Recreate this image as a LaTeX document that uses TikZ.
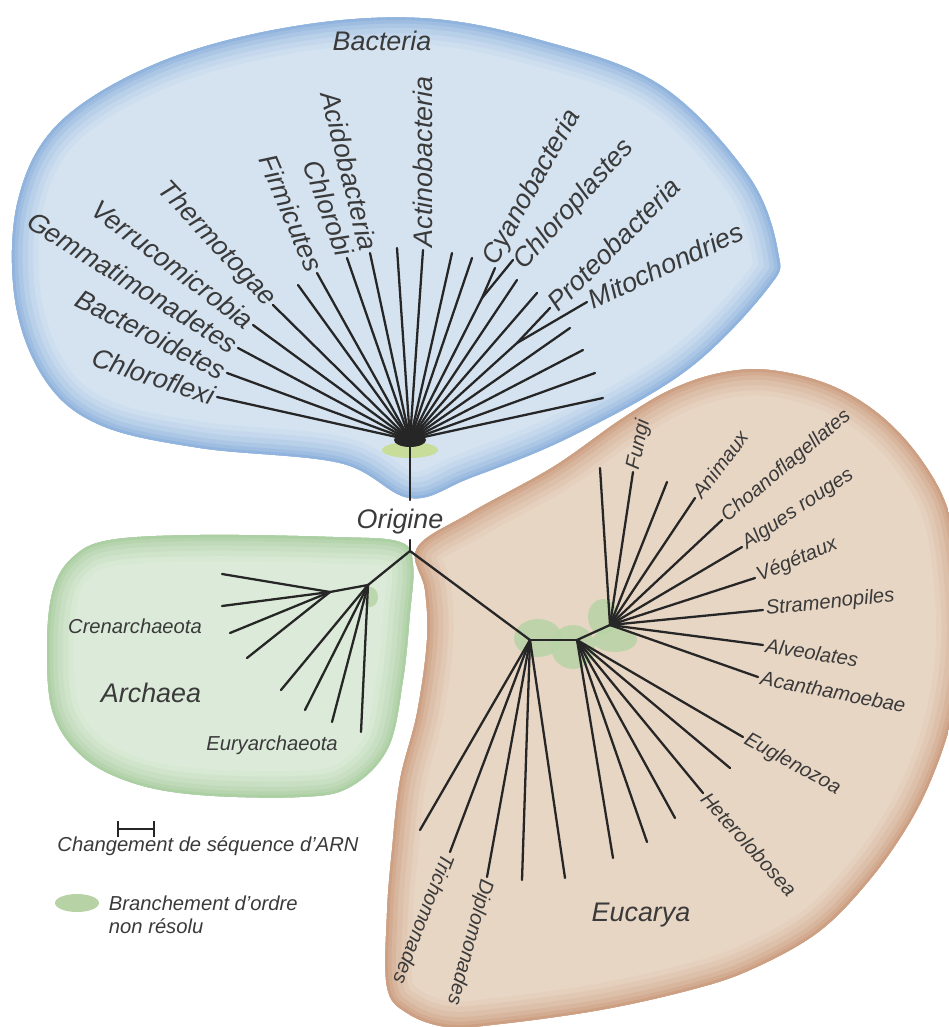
\documentclass[tikz,border=0pt]{standalone}
\usepackage{fontspec}
\setmainfont{Liberation Sans}
\usepackage{xcolor}
\usepackage{tikz}

\newcommand{\grandtxt}{\fontsize{15.3}{17}\selectfont\itshape}
\newcommand{\petittxt}{\fontsize{11.5}{13}\selectfont\itshape}

\begin{document}
\begin{tikzpicture}[x=0.02cm, y=-0.02cm,
  branche/.style={draw=trait, line width=1.3pt, line cap=round},
  grand/.style={font=\grandtxt, text=texte, inner sep=1.5pt},
  petit/.style={font=\petittxt, text=texte, inner sep=1.5pt},
  flou/.style={fill=vertFlou, draw=none, opacity=0.85},
  bactForme/.style={insert path={plot[smooth cycle, tension=0.6] coordinates {
    (420,18) (540,40) (660,85) (748,175) (778,252) (768,288) (687,370) (570,437)
    (470,478) (410,498) (340,463) (200,448) (100,425) (45,380) (15,300) (18,200)
    (60,122) (160,62) (290,27)}}},
  archForme/.style={insert path={plot[smooth cycle, tension=0.6] coordinates {
    (400,542) (413,565) (410,613) (403,680) (388,748) (350,787) (300,797) (200,795)
    (133,783) (83,757) (53,713) (47,647) (53,590) (73,557) (110,540) (200,535)
    (333,537)}}},
  eucForme/.style={insert path={plot[smooth cycle, tension=0.6] coordinates {
    (417,548) (470,513) (553,467) (620,420) (670,390) (720,373) (770,370) (830,385)
    (880,415) (920,458) (948,510) (960,580) (962,650) (952,717) (933,775) (907,827)
    (867,883) (817,933) (750,970) (690,990) (600,1010) (500,1024) (447,1027)
    (407,1013) (387,987) (387,913) (392,850) (400,780) (417,713) (427,640) (425,590)}}}]
  \definecolor{bleuFond}{HTML}{D5E3F1}
  \definecolor{bleuBord}{HTML}{86ADDA}
  \definecolor{vertFond}{HTML}{DCEBD9}
  \definecolor{vertBord}{HTML}{A6CB9C}
  \definecolor{brunFond}{HTML}{E8D6C5}
  \definecolor{brunBord}{HTML}{C9987A}
  \definecolor{vertFlou}{HTML}{B7D3A6}
  \definecolor{trait}{HTML}{262626}
  \definecolor{texte}{HTML}{3A3A3A}

  \useasboundingbox (0,0) rectangle (948,1027);

  % les trois domaines
  \fill[bleuFond, bactForme];
  \begin{scope}
    \clip[bactForme];
    \draw[bleuBord!10!bleuFond, line width=30pt, bactForme];
    \draw[bleuBord!22!bleuFond, line width=24pt, bactForme];
    \draw[bleuBord!36!bleuFond, line width=18pt, bactForme];
    \draw[bleuBord!52!bleuFond, line width=12pt, bactForme];
    \draw[bleuBord!70!bleuFond, line width=7pt, bactForme];
    \draw[bleuBord!88!bleuFond, line width=3pt, bactForme];
  \end{scope}
  \fill[vertFond, archForme];
  \begin{scope}
    \clip[archForme];
    \draw[vertBord!10!vertFond, line width=30pt, archForme];
    \draw[vertBord!22!vertFond, line width=24pt, archForme];
    \draw[vertBord!36!vertFond, line width=18pt, archForme];
    \draw[vertBord!52!vertFond, line width=12pt, archForme];
    \draw[vertBord!70!vertFond, line width=7pt, archForme];
    \draw[vertBord!88!vertFond, line width=3pt, archForme];
  \end{scope}
  \fill[brunFond, eucForme];
  \begin{scope}
    \clip[eucForme];
    \draw[brunBord!10!brunFond, line width=30pt, eucForme];
    \draw[brunBord!22!brunFond, line width=24pt, eucForme];
    \draw[brunBord!36!brunFond, line width=18pt, eucForme];
    \draw[brunBord!52!brunFond, line width=12pt, eucForme];
    \draw[brunBord!70!brunFond, line width=7pt, eucForme];
    \draw[brunBord!88!brunFond, line width=3pt, eucForme];
  \end{scope}

  % branchements non resolus
  \fill[fill=vertFlou!80!yellow, opacity=0.8] (410,450) ellipse [x radius=28, y radius=8];
  \fill[flou] (370,597) ellipse [x radius=8, y radius=10];
  \fill[flou] (538,638) ellipse [x radius=24, y radius=19];
  \fill[flou] (573,647) ellipse [x radius=22, y radius=22];
  \fill[flou] (603,617) ellipse [x radius=15, y radius=18];
  \fill[flou] (615,640) ellipse [x radius=22, y radius=12];

  % noeuds internes
  \coordinate (R)  at (410,551);
  \coordinate (R0) at (410,540);
  \coordinate (B0) at (410,440);
  \coordinate (B1) at (410,500);
  \coordinate (cy) at (482,298);
  \coordinate (pr) at (517,343);
  \coordinate (A0) at (368,585);
  \coordinate (A1) at (330,592);
  \coordinate (E1) at (530,640);
  \coordinate (E2) at (577,640);
  \coordinate (E3) at (610,625);

  % feuilles Bacteria
  \coordinate (b1)  at (217,397);
  \coordinate (b2)  at (227,373);
  \coordinate (b3)  at (238,348);
  \coordinate (b4)  at (253,325);
  \coordinate (b5)  at (273,305);
  \coordinate (b6)  at (298,285);
  \coordinate (b7)  at (317,273);
  \coordinate (b8)  at (347,258);
  \coordinate (b9)  at (370,253);
  \coordinate (b10) at (397,248);
  \coordinate (b11) at (423,250);
  \coordinate (b12) at (452,253);
  \coordinate (b13) at (472,258);
  \coordinate (b14) at (495,268);
  \coordinate (b15) at (513,260);
  \coordinate (b16) at (517,280);
  \coordinate (b17) at (537,293);
  \coordinate (b18) at (550,308);
  \coordinate (b19) at (587,302);
  \coordinate (b20) at (570,328);
  \coordinate (b21) at (583,350);
  \coordinate (b22) at (595,373);
  \coordinate (b23) at (603,398);

  % feuilles Archaea
  \coordinate (a1) at (222,574);
  \coordinate (a2) at (222,606);
  \coordinate (a3) at (230,633);
  \coordinate (a4) at (247,658);
  \coordinate (a5) at (281,690);
  \coordinate (a6) at (305,710);
  \coordinate (a7) at (332,722);
  \coordinate (a8) at (361,732);

  % feuilles Eucarya
  \coordinate (e1)  at (600,468);
  \coordinate (e2)  at (633,472);
  \coordinate (e3)  at (667,482);
  \coordinate (e4)  at (695,498);
  \coordinate (e5)  at (722,520);
  \coordinate (e6)  at (742,547);
  \coordinate (e7)  at (755,578);
  \coordinate (e8)  at (763,610);
  \coordinate (e9)  at (763,645);
  \coordinate (e10) at (758,677);
  \coordinate (f1) at (743,737);
  \coordinate (f2) at (730,768);
  \coordinate (f3) at (703,793);
  \coordinate (f4) at (675,818);
  \coordinate (f5) at (647,842);
  \coordinate (f6) at (613,858);
  \coordinate (g1) at (420,830);
  \coordinate (g2) at (450,852);
  \coordinate (g3) at (487,877);
  \coordinate (g4) at (522,880);
  \coordinate (g5) at (565,878);

  % tronc
  \draw[branche] (B0) -- (B1);
  \draw[branche] (R0) -- (R);
  \draw[branche] (R) -- (A0);
  \draw[branche] (A0) -- (A1);
  \draw[branche] (R) -- (E1);
  \draw[branche] (E1) -- (E2);
  \draw[branche] (E2) -- (E3);

  % Bacteria
  \fill[trait] (B0) ellipse [x radius=16, y radius=7];
  \draw[branche] (B0) -- (b1);
  \draw[branche] (B0) -- (b2);
  \draw[branche] (B0) -- (b3);
  \draw[branche] (B0) -- (b4);
  \draw[branche] (B0) -- (b5);
  \draw[branche] (B0) -- (b6);
  \draw[branche] (B0) -- (b7);
  \draw[branche] (B0) -- (b8);
  \draw[branche] (B0) -- (b9);
  \draw[branche] (B0) -- (b10);
  \draw[branche] (B0) -- (b11);
  \draw[branche] (B0) -- (b12);
  \draw[branche] (B0) -- (b13);
  \draw[branche] (B0) -- (cy);
  \draw[branche] (cy) -- (b14);
  \draw[branche] (cy) -- (b15);
  \draw[branche] (B0) -- (b16);
  \draw[branche] (B0) -- (b17);
  \draw[branche] (B0) -- (pr);
  \draw[branche] (pr) -- (b18);
  \draw[branche] (pr) -- (b19);
  \draw[branche] (B0) -- (b20);
  \draw[branche] (B0) -- (b21);
  \draw[branche] (B0) -- (b22);
  \draw[branche] (B0) -- (b23);

  % Archaea
  \draw[branche] (A1) -- (a1);
  \draw[branche] (A1) -- (a2);
  \draw[branche] (A1) -- (a3);
  \draw[branche] (A1) -- (a4);
  \draw[branche] (A0) -- (a5);
  \draw[branche] (A0) -- (a6);
  \draw[branche] (A0) -- (a7);
  \draw[branche] (A0) -- (a8);

  % Eucarya
  \draw[branche] (E3) -- (e1);
  \draw[branche] (E3) -- (e2);
  \draw[branche] (E3) -- (e3);
  \draw[branche] (E3) -- (e4);
  \draw[branche] (E3) -- (e5);
  \draw[branche] (E3) -- (e6);
  \draw[branche] (E3) -- (e7);
  \draw[branche] (E3) -- (e8);
  \draw[branche] (E3) -- (e9);
  \draw[branche] (E3) -- (e10);
  \draw[branche] (E2) -- (f1);
  \draw[branche] (E2) -- (f2);
  \draw[branche] (E2) -- (f3);
  \draw[branche] (E2) -- (f4);
  \draw[branche] (E2) -- (f5);
  \draw[branche] (E2) -- (f6);
  \draw[branche] (E1) -- (g1);
  \draw[branche] (E1) -- (g2);
  \draw[branche] (E1) -- (g3);
  \draw[branche] (E1) -- (g4);
  \draw[branche] (E1) -- (g5);

  % titres
  \node[grand] (bacteria) at (382,41)  {Bacteria};
  \node[grand] (origine)  at (400,522) {Origine};
  \node[grand] (archaea)  at (151,693) {Archaea};
  \node[grand] (eucarya)  at (641,915) {Eucarya};

  % noms Bacteria
  \node[grand, anchor=east, rotate=-18] (chloroflexi)   at (b1)  {Chloroflexi};
  \node[grand, anchor=east, rotate=-27] (bacteroidetes) at (b2)  {Bacteroidetes};
  \node[grand, anchor=east, rotate=-32] (gemmati)       at (b3)  {Gemmatimonadetes};
  \node[grand, anchor=east, rotate=-37] (verruco)       at (b4)  {Verrucomicrobia};
  \node[grand, anchor=east, rotate=-47] (thermotogae)   at (b5)  {Thermotogae};
  \node[grand, anchor=east, rotate=-67] (firmicutes)    at (b7)  {Firmicutes};
  \node[grand, anchor=east, rotate=-70] (chlorobi)      at (b8)  {Chlorobi};
  \node[grand, anchor=east, rotate=-76] (acido)         at (b9)  {Acidobacteria};
  \node[grand, anchor=west, rotate=90]  (actino)        at (b11) {Actinobacteria};
  \node[grand, anchor=west, rotate=61]  (cyano)         at (489,266) {Cyanobacteria};
  \node[grand, anchor=west, rotate=48]  (chloroplastes) at (517,268) {Chloroplastes};
  \node[grand, anchor=west, rotate=45]  (proteo)        at (b18) {Proteobacteria};
  \node[grand, anchor=west, rotate=25]  (mito)          at (b19) {Mitochondries};

  % noms Archaea
  \node[petit] (crenar) at (135,626) {Crenarchaeota};
  \node[petit] (euryar) at (272,745) {Euryarchaeota};

  % noms Eucarya
  \node[petit, anchor=west, rotate=78]   (fungi)     at (e2)  {Fungi};
  \node[petit, anchor=west, rotate=53]   (animaux)   at (e4)  {Animaux};
  \node[petit, anchor=west, rotate=40]   (choano)    at (e5)  {Choanoflagellates};
  \node[petit, anchor=west, rotate=34]   (algues)    at (e6)  {Algues rouges};
  \node[petit, anchor=west, rotate=23]   (vegetaux)  at (e7)  {Végétaux};
  \node[petit, anchor=west, rotate=6]    (strameno)  at (e8)  {Stramenopiles};
  \node[petit, anchor=west, rotate=-9]   (alveo)     at (e9)  {Alveolates};
  \node[petit, anchor=west, rotate=-11]  (acantha)   at (e10) {Acanthamoebae};
  \node[petit, anchor=west, rotate=-29]  (euglen)    at (f1)  {Euglenozoa};
  \node[petit, anchor=west, rotate=-48]  (hetero)    at (f3)  {Heterolobosea};
  \node[petit, anchor=west, rotate=-111] (tricho)    at (g2)  {Trichomonades};
  \node[petit, anchor=west, rotate=-105] (diplo)     at (g3)  {Diplomonades};

  % legende
  \coordinate (s1) at (117,829);
  \coordinate (s2) at (155,829);
  \draw[trait, line width=1.3pt, |-|] (s1) -- (s2);
  \node[petit] (changement) at (208,846) {Changement de séquence d’ARN};
  \fill[vertFlou] (77,903) ellipse [x radius=22, y radius=9];
  \node[petit, anchor=west] (branchement) at (106,903) {Branchement d’ordre};
  \node[petit, anchor=west] (resolu)      at (106,926) {non résolu};
\end{tikzpicture}
\end{document}
